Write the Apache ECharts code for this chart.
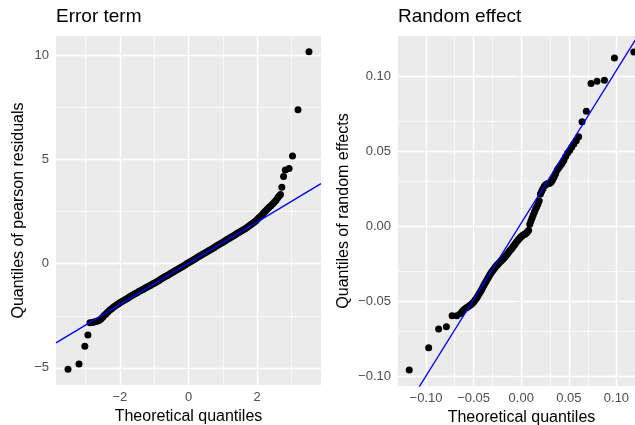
<!DOCTYPE html>
<html>
<head>
<meta charset="utf-8">
<script src="https://cdn.jsdelivr.net/npm/echarts@6/dist/echarts.min.js"></script>
<style>
  html, body { margin: 0; padding: 0; background: #fff; }
  #chart { width: 635px; height: 425px; }
</style>
</head>
<body>
<div id="chart"></div>
<script>
// Error term: [theoretical quantile, pearson residual quantile]
const errPoints = [
  [-3.51, -5.06], [-3.19, -4.81], [-3.02, -3.96], [-2.93, -3.42],
  [-2.87, -2.84], [-2.80, -2.82], [-2.75, -2.80], [-2.70, -2.78], [-2.65, -2.75], [-2.60, -2.71],
  [-2.55, -2.65], [-2.50, -2.57], [-2.45, -2.48], [-2.40, -2.40], [-2.35, -2.32], [-2.30, -2.24],
  [-2.25, -2.17], [-2.20, -2.10], [-2.15, -2.04], [-2.10, -1.98], [-2.05, -1.93], [-2.00, -1.88],
  [-1.95, -1.83], [-1.90, -1.78], [-1.85, -1.73], [-1.80, -1.68], [-1.75, -1.63], [-1.70, -1.58],
  [-1.65, -1.53], [-1.60, -1.48], [-1.55, -1.43], [-1.50, -1.39], [-1.45, -1.34], [-1.40, -1.30],
  [-1.35, -1.25], [-1.30, -1.21], [-1.25, -1.16], [-1.20, -1.12], [-1.15, -1.07], [-1.10, -1.03],
  [-1.05, -0.98], [-1.00, -0.94], [-0.95, -0.89], [-0.90, -0.84], [-0.85, -0.79], [-0.80, -0.74],
  [-0.75, -0.69], [-0.70, -0.64], [-0.65, -0.59], [-0.60, -0.55], [-0.55, -0.50], [-0.50, -0.45],
  [-0.45, -0.40], [-0.40, -0.35], [-0.35, -0.30], [-0.30, -0.26], [-0.25, -0.21], [-0.20, -0.16],
  [-0.15, -0.11], [-0.10, -0.06], [-0.05, -0.01], [0.00, 0.04], [0.05, 0.09], [0.10, 0.14],
  [0.15, 0.19], [0.20, 0.24], [0.25, 0.29], [0.30, 0.34], [0.35, 0.39], [0.40, 0.44],
  [0.45, 0.49], [0.50, 0.54], [0.55, 0.58], [0.60, 0.63], [0.65, 0.68], [0.70, 0.73],
  [0.75, 0.78], [0.80, 0.83], [0.85, 0.88], [0.90, 0.93], [0.95, 0.98], [1.00, 1.03],
  [1.05, 1.08], [1.10, 1.13], [1.15, 1.18], [1.20, 1.23], [1.25, 1.28], [1.30, 1.33],
  [1.35, 1.38], [1.40, 1.43], [1.45, 1.48], [1.50, 1.53], [1.55, 1.58], [1.60, 1.63],
  [1.65, 1.68], [1.70, 1.74], [1.75, 1.79], [1.80, 1.85], [1.85, 1.91], [1.90, 1.97],
  [1.95, 2.04], [2.00, 2.12], [2.05, 2.20], [2.10, 2.28], [2.15, 2.36], [2.20, 2.45],
  [2.25, 2.54], [2.30, 2.62], [2.35, 2.70], [2.40, 2.78], [2.45, 2.86], [2.50, 2.94],
  [2.55, 3.04], [2.60, 3.16], [2.64, 3.24],
  [2.68, 3.32], [2.72, 3.67], [2.77, 4.18], [2.82, 4.49], [2.93, 4.57], [3.03, 5.17],
  [3.19, 7.38], [3.51, 10.16]
];

// Random effect: [theoretical quantile, random effect quantile]
const rePoints = [
  [-0.1176, -0.0961], [-0.0972, -0.0812], [-0.0867, -0.0687], [-0.0786, -0.0672],
  [-0.0726, -0.0598], [-0.0677, -0.0598],
  [-0.0640, -0.0585], [-0.0620, -0.0570], [-0.0600, -0.0556], [-0.0580, -0.0547],
  [-0.0562, -0.0540], [-0.0545, -0.0532], [-0.0528, -0.0524], [-0.0512, -0.0515],
  [-0.0497, -0.0504], [-0.0482, -0.0492], [-0.0468, -0.0480], [-0.0455, -0.0466],
  [-0.0442, -0.0452], [-0.0429, -0.0438], [-0.0416, -0.0425], [-0.0404, -0.0410],
  [-0.0392, -0.0395], [-0.0380, -0.0381], [-0.0368, -0.0368], [-0.0356, -0.0355],
  [-0.0345, -0.0343], [-0.0334, -0.0330], [-0.0323, -0.0318], [-0.0312, -0.0307],
  [-0.0301, -0.0298], [-0.0290, -0.0290], [-0.0279, -0.0280], [-0.0268, -0.0270],
  [-0.0257, -0.0262], [-0.0246, -0.0255], [-0.0235, -0.0248], [-0.0224, -0.0240],
  [-0.0213, -0.0233], [-0.0202, -0.0226], [-0.0191, -0.0220], [-0.0180, -0.0213],
  [-0.0169, -0.0205], [-0.0158, -0.0196], [-0.0147, -0.0186], [-0.0136, -0.0177],
  [-0.0125, -0.0168], [-0.0114, -0.0160], [-0.0103, -0.0152], [-0.0092, -0.0143],
  [-0.0081, -0.0133], [-0.0070, -0.0124], [-0.0059, -0.0114], [-0.0048, -0.0105],
  [-0.0037, -0.0096], [-0.0026, -0.0088], [-0.0015, -0.0080], [-0.0004, -0.0072],
  [0.0007, -0.0066], [0.0018, -0.0061], [0.0030, -0.0056], [0.0042, -0.0052],
  [0.0054, -0.0046], [0.0066, -0.0038], [0.0078, -0.0027], [0.0090, 0.0012],
  [0.0102, 0.0035], [0.0114, 0.0055], [0.0126, 0.0074], [0.0138, 0.0094],
  [0.0150, 0.0113], [0.0163, 0.0130], [0.0176, 0.0147], [0.0189, 0.0170],
  [0.0202, 0.0215], [0.0215, 0.0232], [0.0228, 0.0250], [0.0242, 0.0267],
  [0.0256, 0.0276], [0.0270, 0.0281], [0.0285, 0.0284], [0.0300, 0.0287],
  [0.0315, 0.0295], [0.0330, 0.0310], [0.0346, 0.0328], [0.0362, 0.0350],
  [0.0378, 0.0374], [0.0395, 0.0390], [0.0412, 0.0405], [0.0430, 0.0420],
  [0.0448, 0.0440], [0.0467, 0.0464], [0.0487, 0.0488], [0.0508, 0.0505],
  [0.0530, 0.0527], [0.0553, 0.0548], [0.0578, 0.0570], [0.0603, 0.0596],
  [0.0639, 0.0696], [0.0684, 0.0767], [0.0733, 0.0952], [0.0796, 0.0967],
  [0.0874, 0.0974], [0.0979, 0.1123], [0.1182, 0.1163]
];

// reference lines (intercept, slope)
const errLine = { intercept: 0.02, slope: 0.99 };
const reLine = { intercept: 0.002, slope: 1.02 };

// axis ranges
const errXRange = [-3.86, 3.86];
const errYRange = [-5.82, 10.92];
const reXRange = [-0.1294, 0.1300];
const reYRange = [-0.1067, 0.1269];

// tick labels and grid lines
const errXTicks = [-2, 0, 2];
const errXMinor = [-3, -1, 1, 3];
const errYTicks = [-5, 0, 5, 10];
const errYMinor = [-2.5, 2.5, 7.5];
const reXTicks = [-0.10, -0.05, 0.00, 0.05, 0.10];
const reXMinor = [-0.125, -0.075, -0.025, 0.025, 0.075, 0.125];
const reYTicks = [-0.10, -0.05, 0.00, 0.05, 0.10];
const reYMinor = [-0.075, -0.025, 0.025, 0.075, 0.125];

const FONT = "'Liberation Sans', Arial, sans-serif";
const minus = (s) => String(s).replace('-', '\u2212');

const valueAxis = (gridIndex, range, ticks, name, nameGap, digits, isY) => ({
  type: 'value',
  gridIndex,
  min: range[0],
  max: range[1],
  name,
  nameLocation: 'middle',
  nameGap,
  nameTextStyle: { color: '#000', fontSize: 16, fontFamily: FONT },
  axisLine: { show: false },
  axisTick: {
    show: true,
    length: 4,
    customValues: ticks,
    lineStyle: { color: '#333', width: 1.1 },
  },
  axisLabel: {
    customValues: ticks,
    color: '#4d4d4d',
    fontSize: 13,
    fontFamily: FONT,
    margin: isY ? 7 : 6,
    formatter: (v) => minus(digits ? v.toFixed(digits) : Math.round(v)),
  },
  splitLine: { show: false },
});

const gridLines = (xMajor, xMinor, yMajor, yMinor) => {
  const mk = (axis, vals, width) => vals.map((v) => ({ [axis]: v, lineStyle: { width } }));
  return [
    ...mk('xAxis', xMinor, 0.7), ...mk('yAxis', yMinor, 0.7),
    ...mk('xAxis', xMajor, 1.4), ...mk('yAxis', yMajor, 1.4),
  ];
};

const gridSeries = (idx, xMajor, xMinor, yMajor, yMinor) => ({
  type: 'line',
  xAxisIndex: idx,
  yAxisIndex: idx,
  data: [],
  z: 1,
  silent: true,
  markLine: {
    z: 1,
    silent: true,
    animation: false,
    symbol: ['none', 'none'],
    label: { show: false },
    lineStyle: { color: '#ffffff', type: 'solid' },
    data: gridLines(xMajor, xMinor, yMajor, yMinor),
  },
});

const linePoints = (l, range) => range.map((x) => [x, l.intercept + l.slope * x]);

const chart = echarts.init(document.getElementById('chart'), null, { renderer: 'canvas' });
chart.setOption({
  animation: false,
  backgroundColor: '#ffffff',
  title: [
    { text: 'Error term', left: 56, top: 7, padding: 0,
      textStyle: { fontSize: 19, fontWeight: 'normal', color: '#000', fontFamily: FONT } },
    { text: 'Random effect', left: 398, top: 7, padding: 0,
      textStyle: { fontSize: 19, fontWeight: 'normal', color: '#000', fontFamily: FONT } },
  ],
  grid: [
    { left: 56, top: 36, width: 265, height: 349, show: true, backgroundColor: '#ebebeb',
      borderWidth: 0, outerBoundsMode: 'none' },
    { left: 398, top: 36, width: 247, height: 350, show: true, backgroundColor: '#ebebeb',
      borderWidth: 0, outerBoundsMode: 'none' },
  ],
  xAxis: [
    valueAxis(0, errXRange, errXTicks, 'Theoretical quantiles', 22, 0, false),
    valueAxis(1, reXRange, reXTicks, 'Theoretical quantiles', 22, 2, false),
  ],
  yAxis: [
    valueAxis(0, errYRange, errYTicks, 'Quantiles of pearson residuals', 29, 0, true),
    valueAxis(1, reYRange, reYTicks, 'Quantiles of random effects', 46, 2, true),
  ],
  series: [
    gridSeries(0, errXTicks, errXMinor, errYTicks, errYMinor),
    gridSeries(1, reXTicks, reXMinor, reYTicks, reYMinor),
    {
      type: 'scatter', xAxisIndex: 0, yAxisIndex: 0, z: 3,
      symbolSize: 7, itemStyle: { color: '#000', opacity: 1 },
      data: errPoints,
    },
    {
      type: 'scatter', xAxisIndex: 1, yAxisIndex: 1, z: 3,
      symbolSize: 7, itemStyle: { color: '#000', opacity: 1 },
      data: rePoints,
    },
    {
      type: 'line', xAxisIndex: 0, yAxisIndex: 0, z: 4, showSymbol: false,
      lineStyle: { color: '#0000ff', width: 1.3 },
      data: linePoints(errLine, errXRange),
    },
    {
      type: 'line', xAxisIndex: 1, yAxisIndex: 1, z: 4, showSymbol: false,
      lineStyle: { color: '#0000ff', width: 1.3 },
      data: linePoints(reLine, reXRange),
    },
  ],
});

window.addEventListener('resize', () => chart.resize());
</script>
</body>
</html>
